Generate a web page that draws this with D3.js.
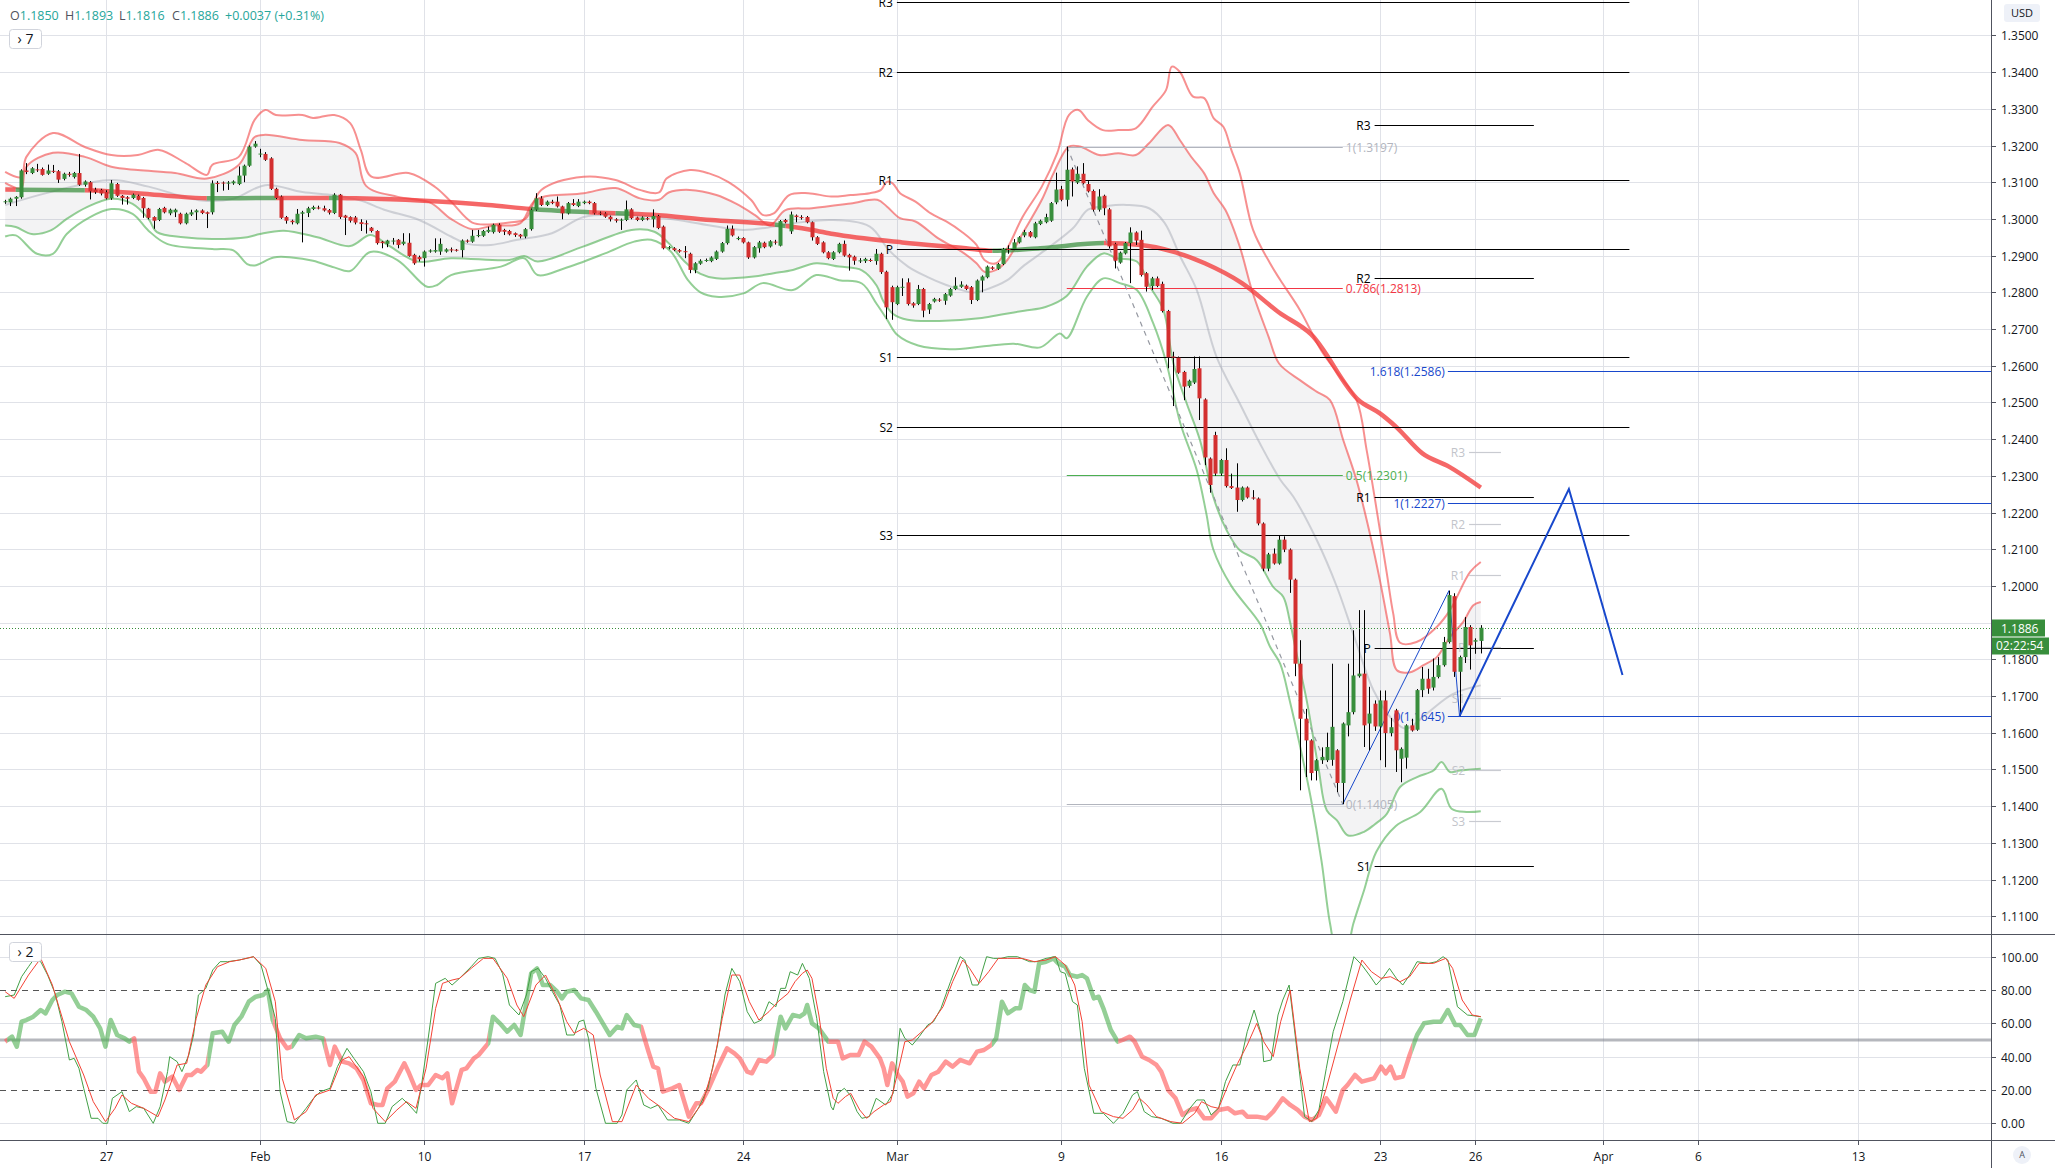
<!DOCTYPE html>
<html><head><meta charset="utf-8">
<script src="https://cdn.jsdelivr.net/npm/d3@7"></script>
<style>body{margin:0;background:#fff;overflow:hidden}svg{display:block}text{font-family:"Open Sans",Roboto,"DejaVu Sans",sans-serif}</style>
</head><body><svg id="c" width="2055" height="1168"></svg>
<script>
// ---------- DATA ----------
const opens=[1.3047,1.3045,1.3055,1.3059,1.3132,1.3125,1.3135,1.3136,1.3123,1.3131,1.3130,1.3109,1.3123,1.3114,1.3125,1.3093,1.3100,1.3080,1.3079,1.3073,1.3056,1.3095,1.3063,1.3059,1.3057,1.3063,1.3057,1.3028,1.3005,1.2997,1.3030,1.3015,1.3018,1.3014,1.2988,1.3012,1.3018,1.3023,1.3018,1.3018,1.3098,1.3099,1.3096,1.3097,1.3095,1.3118,1.3145,1.3197,1.3177,1.3177,1.3165,1.3082,1.3061,1.3005,1.2995,1.2988,1.3014,1.3016,1.3027,1.3031,1.3029,1.3024,1.3016,1.3066,1.3009,1.3005,1.3004,1.2991,1.2988,1.2976,1.2967,1.2938,1.2932,1.2941,1.2943,1.2932,1.2935,1.2902,1.2896,1.2893,1.2911,1.2911,1.2911,1.2911,1.2917,1.2916,1.2915,1.2941,1.2938,1.2954,1.2954,1.2965,1.2964,1.2984,1.2970,1.2967,1.2961,1.2957,1.2952,1.2972,1.3025,1.3056,1.3038,1.3047,1.3047,1.3034,1.3015,1.3043,1.3035,1.3043,1.3047,1.3043,1.3017,1.3015,1.3006,1.2999,1.2996,1.2997,1.3026,1.3004,1.2997,1.3002,1.2999,1.3008,1.2979,1.2920,1.2920,1.2915,1.2912,1.2905,1.2861,1.2878,1.2886,1.2885,1.2891,1.2911,1.2934,1.2973,1.2945,1.2948,1.2936,1.2895,1.2920,1.2935,1.2925,1.2938,1.2927,1.2997,1.2966,1.3009,1.3005,1.3005,1.2991,1.2950,1.2936,1.2909,1.2891,1.2909,1.2932,1.2902,1.2897,1.2886,1.2885,1.2888,1.2885,1.2905,1.2856,1.2814,1.2768,1.2814,1.2827,1.2770,1.2768,1.2809,1.2753,1.2775,1.2780,1.2777,1.2791,1.2809,1.2815,1.2818,1.2814,1.2779,1.2832,1.2841,1.2868,1.2864,1.2877,1.2918,1.2918,1.2936,1.2955,1.2964,1.2950,1.2986,1.2991,1.2995,1.3045,1.3081,1.3052,1.3135,1.3099,1.3123,1.3095,1.3076,1.3025,1.3063,1.3026,1.2932,1.2881,1.2906,1.2934,1.2963,1.2943,1.2852,1.2817,1.2838,1.2823,1.2749,1.2625,1.2622,1.2583,1.2545,1.2554,1.2593,1.2508,1.2347,1.2411,1.2306,1.2343,1.2272,1.2268,1.2234,1.2268,1.2241,1.2238,1.2170,1.2047,1.2088,1.2061,1.2126,1.2099,1.2017,1.1788,1.1638,1.1579,1.1496,1.1525,1.1525,1.1526,1.1552,1.1463,1.1620,1.1656,1.1754,1.1761,1.1625,1.1679,1.1617,1.1688,1.1599,1.1661,1.1529,1.1532,1.1620,1.1608,1.1716,1.1747,1.1723,1.1752,1.1784,1.1847,1.1972,1.1766,1.1806,1.1888,1.1848,1.1850];
const highs=[1.3052,1.3058,1.3062,1.3135,1.3152,1.3141,1.3150,1.3140,1.3148,1.3147,1.3133,1.3126,1.3128,1.3128,1.3177,1.3105,1.3103,1.3085,1.3082,1.3078,1.3106,1.3098,1.3065,1.3062,1.3069,1.3066,1.3060,1.3030,1.3007,1.3030,1.3033,1.3028,1.3028,1.3017,1.3017,1.3025,1.3026,1.3026,1.3020,1.3105,1.3103,1.3102,1.3103,1.3105,1.3143,1.3148,1.3200,1.3212,1.3191,1.3182,1.3168,1.3085,1.3064,1.3008,1.2998,1.3027,1.3022,1.3033,1.3036,1.3036,1.3036,1.3027,1.3070,1.3068,1.3011,1.3007,1.3008,1.2999,1.2996,1.2978,1.2969,1.2940,1.2943,1.2948,1.2945,1.2961,1.2961,1.2905,1.2900,1.2914,1.2917,1.2947,1.2947,1.2920,1.2922,1.2918,1.2944,1.2944,1.2970,1.2970,1.2970,1.2979,1.2987,1.2988,1.2973,1.2970,1.2963,1.2959,1.2975,1.3028,1.3070,1.3062,1.3050,1.3052,1.3061,1.3036,1.3046,1.3054,1.3054,1.3050,1.3050,1.3046,1.3020,1.3018,1.3009,1.3002,1.3001,1.3050,1.3029,1.3006,1.3007,1.3005,1.3026,1.3011,1.2982,1.2926,1.2923,1.2918,1.2926,1.2908,1.2882,1.2890,1.2892,1.2898,1.2914,1.2937,1.2982,1.2982,1.2952,1.2950,1.2938,1.2926,1.2940,1.2938,1.2942,1.2943,1.2997,1.3000,1.3020,1.3012,1.3010,1.3008,1.2993,1.2953,1.2939,1.2912,1.2912,1.2935,1.2941,1.2905,1.2900,1.2893,1.2894,1.2892,1.2918,1.2908,1.2859,1.2818,1.2818,1.2838,1.2838,1.2773,1.2820,1.2812,1.2771,1.2785,1.2784,1.2798,1.2812,1.2841,1.2830,1.2821,1.2817,1.2835,1.2846,1.2873,1.2871,1.2880,1.2921,1.2928,1.2945,1.2953,1.2970,1.2967,1.2992,1.2998,1.3014,1.3046,1.3126,1.3090,1.3197,1.3140,1.3143,1.3152,1.3103,1.3080,1.3081,1.3066,1.3030,1.2935,1.2911,1.2937,1.2977,1.2966,1.2968,1.2855,1.2842,1.2843,1.2829,1.2752,1.2638,1.2625,1.2586,1.2562,1.2625,1.2625,1.2511,1.2350,1.2420,1.2346,1.2375,1.2306,1.2334,1.2271,1.2271,1.2261,1.2241,1.2173,1.2090,1.2102,1.2136,1.2135,1.2102,1.2020,1.1852,1.1665,1.1582,1.1528,1.1560,1.1600,1.1788,1.1555,1.1628,1.1788,1.1879,1.1934,1.1934,1.1725,1.1688,1.1715,1.1715,1.1640,1.1665,1.1560,1.1623,1.1638,1.1719,1.1779,1.1774,1.1802,1.1806,1.1861,1.1987,1.1980,1.1810,1.1915,1.1893,1.1857,1.1893];
const lows=[1.3041,1.3035,1.3035,1.3055,1.3122,1.3122,1.3128,1.3118,1.3120,1.3125,1.3098,1.3105,1.3115,1.3110,1.3090,1.3088,1.3053,1.3068,1.3064,1.3053,1.3052,1.3060,1.3039,1.3039,1.3054,1.3050,1.3003,1.2999,1.2973,1.2994,1.3015,1.3010,1.3005,1.2985,1.2985,1.3008,1.2997,1.3013,1.2975,1.3012,1.3073,1.3077,1.3079,1.3093,1.3092,1.3100,1.3142,1.3194,1.3168,1.3158,1.3079,1.3054,1.3000,1.2987,1.2985,1.2985,1.2936,1.3005,1.3024,1.3026,1.3020,1.3012,1.3013,1.3000,1.2956,1.2990,1.2985,1.2967,1.2960,1.2963,1.2930,1.2920,1.2923,1.2930,1.2920,1.2928,1.2897,1.2875,1.2884,1.2870,1.2908,1.2908,1.2902,1.2908,1.2909,1.2911,1.2895,1.2935,1.2935,1.2950,1.2951,1.2962,1.2960,1.2962,1.2956,1.2955,1.2951,1.2947,1.2947,1.2968,1.3022,1.3035,1.3035,1.3040,1.3031,1.2999,1.3012,1.3035,1.3032,1.3040,1.3040,1.3012,1.3010,1.3003,1.2993,1.2990,1.2970,1.2994,1.2999,1.2994,1.2994,1.2996,1.2977,1.2972,1.2917,1.2917,1.2912,1.2908,1.2893,1.2852,1.2852,1.2875,1.2883,1.2882,1.2888,1.2908,1.2930,1.2952,1.2942,1.2933,1.2891,1.2892,1.2908,1.2920,1.2922,1.2930,1.2925,1.2988,1.2959,1.2991,1.2998,1.2988,1.2941,1.2929,1.2906,1.2890,1.2888,1.2906,1.2897,1.2859,1.2875,1.2880,1.2880,1.2883,1.2875,1.2850,1.2727,1.2725,1.2765,1.2790,1.2764,1.2758,1.2765,1.2732,1.2741,1.2772,1.2774,1.2766,1.2788,1.2806,1.2812,1.2806,1.2768,1.2776,1.2800,1.2838,1.2861,1.2861,1.2874,1.2905,1.2915,1.2933,1.2950,1.2949,1.2947,1.2983,1.2988,1.2992,1.3040,1.3048,1.3034,1.3061,1.3095,1.3094,1.3072,1.3020,1.3020,1.3010,1.2920,1.2865,1.2878,1.2903,1.2825,1.2929,1.2843,1.2802,1.2806,1.2814,1.2745,1.2593,1.2490,1.2578,1.2506,1.2540,1.2550,1.2452,1.2329,1.2254,1.2300,1.2300,1.2268,1.2264,1.2202,1.2230,1.2238,1.2235,1.2165,1.2040,1.2040,1.2058,1.2058,1.2092,1.1981,1.1754,1.1443,1.1479,1.1470,1.1470,1.1515,1.1520,1.1510,1.1438,1.1405,1.1590,1.1650,1.1750,1.1561,1.1552,1.1605,1.1525,1.1506,1.1590,1.1493,1.1465,1.1502,1.1603,1.1605,1.1697,1.1706,1.1715,1.1748,1.1780,1.1843,1.1752,1.1645,1.1790,1.1772,1.1815,1.1816];
const closes=[1.3048,1.3055,1.3060,1.3132,1.3128,1.3138,1.3134,1.3120,1.3132,1.3129,1.3107,1.3123,1.3120,1.3125,1.3093,1.3102,1.3075,1.3073,1.3069,1.3056,1.3097,1.3063,1.3057,1.3055,1.3066,1.3052,1.3029,1.3003,1.2995,1.3027,1.3018,1.3025,1.3025,1.2988,1.3014,1.3018,1.3023,1.3016,1.3014,1.3097,1.3095,1.3097,1.3099,1.3102,1.3118,1.3145,1.3197,1.3205,1.3178,1.3161,1.3082,1.3057,1.3003,1.2995,1.2991,1.3014,1.3018,1.3029,1.3032,1.3030,1.3023,1.3017,1.3066,1.3005,1.3003,1.2995,1.2990,1.2986,1.2986,1.2967,1.2934,1.2934,1.2941,1.2941,1.2929,1.2938,1.2899,1.2879,1.2890,1.2911,1.2914,1.2915,1.2932,1.2917,1.2914,1.2914,1.2941,1.2938,1.2954,1.2956,1.2967,1.2970,1.2984,1.2965,1.2965,1.2958,1.2956,1.2952,1.2972,1.3025,1.3056,1.3038,1.3047,1.3043,1.3034,1.3015,1.3043,1.3038,1.3047,1.3047,1.3043,1.3015,1.3014,1.3006,1.2999,1.2995,1.2998,1.3026,1.3002,1.2997,1.3004,1.2999,1.3008,1.2975,1.2920,1.2923,1.2915,1.2911,1.2910,1.2861,1.2879,1.2886,1.2888,1.2895,1.2911,1.2934,1.2973,1.2955,1.2948,1.2936,1.2895,1.2923,1.2936,1.2923,1.2939,1.2937,1.2994,1.2991,1.3012,1.3005,1.3004,1.2991,1.2950,1.2932,1.2909,1.2893,1.2909,1.2932,1.2900,1.2895,1.2886,1.2887,1.2891,1.2886,1.2905,1.2855,1.2759,1.2773,1.2814,1.2815,1.2768,1.2764,1.2809,1.2750,1.2768,1.2782,1.2778,1.2795,1.2809,1.2818,1.2821,1.2809,1.2779,1.2832,1.2843,1.2870,1.2864,1.2877,1.2918,1.2916,1.2936,1.2950,1.2964,1.2952,1.2988,1.2995,1.3005,1.3043,1.3080,1.3052,1.3134,1.3102,1.3123,1.3097,1.3075,1.3025,1.3061,1.3029,1.2925,1.2886,1.2908,1.2934,1.2963,1.2941,1.2847,1.2815,1.2838,1.2817,1.2749,1.2623,1.2622,1.2581,1.2543,1.2559,1.2591,1.2511,1.2350,1.2275,1.2306,1.2343,1.2272,1.2267,1.2234,1.2268,1.2241,1.2238,1.2170,1.2047,1.2086,1.2061,1.2126,1.2099,1.2017,1.1788,1.1638,1.1579,1.1490,1.1525,1.1534,1.1561,1.1616,1.1463,1.1625,1.1656,1.1756,1.1761,1.1620,1.1652,1.1617,1.1688,1.1599,1.1615,1.1552,1.1556,1.1620,1.1606,1.1716,1.1747,1.1720,1.1752,1.1784,1.1847,1.1975,1.1766,1.1806,1.1888,1.1838,1.1852,1.1886];

const maValues=[[0,1.3080],[15,1.3078],[30,1.3064],[38,1.3056],[50,1.3057],[63,1.3057],[66,1.3056],[78,1.3050],[91,1.3038],[99,1.3027],[110,1.3018],[122,1.3011],[133,1.2997],[144,1.2986],[152,1.2970],[156,1.2959],[169,1.2936],[181,1.2920],[186,1.2913],[195,1.2920],[207,1.2934],[214,1.2929],[220,1.2911],[226,1.2879],[233,1.2825],[240,1.2745],[246,1.2686],[255,1.2506],[259,1.2470],[262,1.2434],[267,1.2361],[272,1.2325],[278,1.2268]];
const maTrend=[[0,0],[2,1],[15,0],[38,1],[51,0],[61,1],[63,0],[99,1],[110,0],[115,1],[118,0],[145,1],[147,0],[186,1],[207,0]];

const bbUpperOuter=[[0,1.3128],[3,1.3114],[4,1.3169],[9,1.3234],[15,1.3196],[20,1.3174],[25,1.3174],[29,1.3188],[34,1.3152],[38,1.3120],[39,1.3147],[44,1.3169],[47,1.3270],[49,1.3297],[51,1.3283],[56,1.3283],[58,1.3275],[62,1.3283],[65,1.3261],[67,1.3188],[69,1.3115],[76,1.3125],[81,1.3087],[84,1.3047],[88,1.2990],[91,1.2985],[95,1.2990],[98,1.3000],[101,1.3079],[109,1.3115],[115,1.3106],[119.6,1.3079],[123.2,1.3072],[124.6,1.3110],[129,1.3133],[132.6,1.3124],[136.2,1.3101],[140.5,1.3052],[142.7,1.3011],[144.8,1.3015],[147.7,1.3065],[151.3,1.3070],[155.6,1.3061],[159.3,1.3065],[162.9,1.3070],[165,1.3079],[166.1,1.3101],[167.2,1.3097],[168.6,1.3070],[171.5,1.3047],[174.4,1.3015],[177.3,1.2993],[180.2,1.2965],[183,1.2929],[184.5,1.2888],[186.7,1.2879],[188.8,1.2920],[191.7,1.3006],[195.3,1.3088],[198.2,1.3179],[200.4,1.3283],[202.2,1.3297],[204,1.3269],[206.8,1.3242],[209.7,1.3242],[213,1.3247],[216.2,1.3306],[218.7,1.3351],[219.8,1.3415],[221.3,1.3401],[223.8,1.3333],[225.9,1.3329],[227.7,1.3274],[229.5,1.3251],[231,1.3188],[232.6,1.3124],[235.1,1.2970],[238.3,1.2879],[240.2,1.2834],[244,1.2750],[248,1.2640],[251,1.2580],[254.6,1.2506],[256.5,1.2370],[258.4,1.2206],[260.3,1.2034],[261.5,1.1925],[262.8,1.1845],[265.9,1.1847],[269.7,1.1888],[272.2,1.1934],[276,1.2038],[278,1.2065]];
const bbUpperInner=[[0,1.3098],[3,1.3084],[4,1.3142],[9,1.3180],[15,1.3169],[20,1.3142],[25,1.3133],[32,1.3125],[38,1.3110],[44,1.3147],[47,1.3223],[49,1.3229],[56,1.3215],[63,1.3207],[66,1.3180],[68,1.3090],[74,1.3060],[80,1.3045],[84,1.3000],[88,1.2972],[92,1.2982],[97,1.2988],[100,1.3052],[109,1.3070],[115,1.3084],[119.6,1.3056],[123.2,1.3052],[125,1.3072],[129,1.3079],[134,1.3065],[137.6,1.3042],[141.2,1.3011],[144.1,1.2983],[147,1.3024],[152,1.3029],[159.3,1.3042],[164.3,1.3052],[166.1,1.3034],[168.6,1.3002],[171.5,1.2993],[175.8,1.2947],[180.2,1.2911],[183,1.2879],[184.5,1.2856],[186.7,1.2861],[188.8,1.2888],[191.7,1.2961],[195.3,1.3052],[197.5,1.3124],[200.4,1.3197],[202.5,1.3197],[206.1,1.3174],[209.7,1.3179],[213,1.3174],[215.5,1.3206],[219.1,1.3256],[221.3,1.3215],[223.4,1.3170],[225.9,1.3124],[227.7,1.3070],[229.9,1.3024],[232.6,1.2924],[235,1.2800],[238,1.2680],[240,1.2606],[244,1.2560],[247,1.2530],[249.6,1.2506],[252.1,1.2397],[254.6,1.2288],[257.1,1.2143],[259,1.2015],[260.9,1.1870],[262.2,1.1770],[264.7,1.1765],[267.2,1.1784],[269.7,1.1806],[272.2,1.1861],[274.7,1.1902],[276.6,1.1947],[278,1.1956]];
const bbBasis=[[0,1.3038],[8.5,1.3073],[20,1.3106],[27,1.3088],[37,1.3050],[43,1.3055],[49,1.3092],[56,1.3073],[62,1.3064],[67,1.3050],[71.4,1.3025],[78,1.2997],[84,1.2952],[87,1.2932],[91.5,1.2929],[96.5,1.2943],[103,1.2961],[109,1.3005],[115.4,1.3011],[121.7,1.3006],[126.8,1.2997],[134,1.2979],[139.1,1.2970],[144.8,1.2979],[148.4,1.2988],[155.7,1.2997],[162.9,1.2979],[166.5,1.2915],[170.1,1.2870],[173.7,1.2842],[177.3,1.2820],[182.3,1.2799],[184.5,1.2806],[188.8,1.2833],[191.7,1.2870],[195,1.2905],[201.2,1.2975],[204,1.3025],[207.5,1.3035],[211.3,1.3038],[215.5,1.3029],[218.4,1.2990],[221.4,1.2897],[224.5,1.2806],[228.2,1.2625],[232.6,1.2497],[236.4,1.2388],[240.2,1.2290],[242.7,1.2243],[247.1,1.2125],[250.9,1.1997],[254.6,1.1843],[257.8,1.1715],[261.5,1.1634],[264,1.1611],[267.8,1.1652],[272.8,1.1706],[278,1.1729]];
const bbLowerInner=[[0,1.2982],[2,1.2978],[5,1.2959],[8.5,1.2968],[11.6,1.3000],[15.4,1.3032],[20,1.3055],[24,1.3041],[27,1.3000],[28.6,1.2964],[33.6,1.2950],[39,1.2945],[45.6,1.2950],[48,1.2959],[52.5,1.2968],[58.8,1.2950],[65,1.2926],[68.8,1.2956],[72,1.2930],[77.6,1.2884],[84,1.2893],[95,1.2888],[97.8,1.2899],[100.3,1.2884],[109,1.2925],[118,1.2970],[122.3,1.2965],[125,1.2934],[128,1.2884],[131,1.2850],[134,1.2838],[141,1.2843],[144.8,1.2852],[148.4,1.2861],[152.8,1.2879],[157.1,1.2870],[161.4,1.2860],[164.2,1.2818],[165.4,1.2777],[167.3,1.2741],[170,1.2725],[176,1.2722],[184,1.2730],[188,1.2740],[192,1.2750],[196,1.2760],[200,1.2790],[203.8,1.2870],[206.9,1.2906],[209.4,1.2893],[213.2,1.2884],[215.7,1.2815],[218.2,1.2752],[220.1,1.2606],[222.6,1.2497],[225.1,1.2397],[227.6,1.2243],[230.1,1.2152],[232.6,1.2097],[235.8,1.2070],[238.9,1.1997],[240.8,1.1970],[242,1.1906],[243.3,1.1815],[245.2,1.1688],[247.4,1.1506],[249,1.1388],[250.9,1.1361],[253,1.1320],[256,1.1330],[258,1.1350],[260.3,1.1379],[262.8,1.1452],[266,1.1479],[269.1,1.1497],[270.6,1.1520],[272.2,1.1493],[274.1,1.1497],[278,1.1502]];
const bbLowerOuter=[[0,1.2952],[2,1.2955],[6,1.2905],[9,1.2905],[11.6,1.2959],[16,1.3005],[20,1.3027],[24,1.3014],[27,1.2968],[30.5,1.2932],[39,1.2918],[43,1.2914],[45.6,1.2877],[47,1.2873],[50.6,1.2895],[54,1.2895],[58,1.2886],[62,1.2868],[65,1.2858],[68.8,1.2910],[73.9,1.2888],[79.5,1.2815],[81.4,1.2820],[84,1.2847],[93.4,1.2870],[97.8,1.2893],[100.3,1.2847],[105.3,1.2865],[113,1.2906],[118.5,1.2938],[121.7,1.2943],[125.4,1.2911],[128.6,1.2834],[131,1.2800],[134,1.2788],[139.1,1.2797],[142.7,1.2825],[148.4,1.2806],[152.8,1.2847],[157.1,1.2833],[161.4,1.2824],[164.2,1.2768],[166.1,1.2727],[168,1.2685],[172,1.2655],[178,1.2645],[184,1.2652],[190,1.2660],[195,1.2650],[198.7,1.2688],[200,1.2675],[203.8,1.2788],[206.9,1.2838],[210,1.2825],[213.2,1.2806],[216.3,1.2715],[218.8,1.2606],[221.4,1.2443],[224.5,1.2315],[226.3,1.2197],[227.6,1.2100],[231,1.2000],[236.4,1.1897],[238.3,1.1834],[240.2,1.1788],[242,1.1688],[244,1.1560],[246,1.1420],[248,1.1250],[249.6,1.1080],[251,1.1000],[252.5,1.1000],[254,1.1080],[256,1.1170],[258.3,1.1275],[262,1.1346],[266.6,1.1384],[270.6,1.1447],[272.5,1.1393],[275.3,1.1384],[278,1.1386]];

const stochK=[[0,76],[1.7,77],[3.1,88],[4.4,94],[5.3,98],[6.7,97],[8,89],[9.4,78],[10.7,61],[12.1,38],[13,39],[13.9,33],[14.8,21],[16.2,3],[17.5,3],[18.4,0],[19.3,0],[20.2,15],[22,19],[23.4,7],[24.7,10],[26.1,9],[27.9,0],[29.2,10],[30.6,31],[31,40],[32.4,37],[33.3,31],[34.6,41],[35.5,53],[36.4,77],[37.8,81],[39.1,92],[40.5,97],[41.9,97],[44.1,98],[46.8,100],[48.2,95],[49.5,80],[50.9,63],[51.8,19],[53.1,1],[54.5,0],[56.7,9],[58.1,15],[59.4,19],[61.2,21],[62.6,34],[64.4,45],[65.7,39],[67.5,31],[68.9,19],[70.2,0],[71.6,0],[72.9,10],[74.8,15],[76.1,11],[77.5,6],[78.4,22],[79.7,51],[81.1,84],[82.9,87],[84.2,83],[85.6,87],[87.8,94],[89.2,99],[91,100],[92.3,99],[93.7,90],[95,71],[96.8,65],[98.2,77],[99.1,91],[100.4,93],[101.8,87],[103.1,79],[104.5,71],[105.8,53],[107.2,53],[108.1,61],[109,62],[109.9,51],[111.3,21],[113.1,0],[115.3,0],[116.2,5],[117.1,20],[118.9,26],[120.3,11],[121.6,9],[123,11],[124.8,2],[127,2],[128.8,0],[130.6,9],[132.4,21],[134.2,47],[135.6,77],[136.9,93],[138.4,85],[139.8,67],[141.1,60],[142.5,62],[143.9,73],[145.2,70],[146.1,81],[147,81],[147.9,91],[149.3,89],[150.2,96],[151.5,87],[152.9,63],[154.2,31],[155.6,10],[156,8],[156.9,18],[158.1,21],[159.2,17],[160.5,7],[161.4,3],[162.8,4],[164.1,15],[165,13],[165.9,11],[167.3,18],[168.6,57],[169.5,51],[170.9,47],[172.2,52],[173.8,59],[174.9,61],[176.3,69],[178.1,85],[179.9,100],[180.8,98],[182.2,83],[183.3,83],[184.9,100],[186.2,99],[187.6,99],[188.9,100],[190.7,100],[193,97],[194.3,97],[196.1,99],[197.9,100],[198.8,91],[199.7,90],[201.1,73],[202,71],[203.3,33],[205.1,6],[206.9,6],[208.8,0],[210.6,6],[212.4,17],[213.3,19],[214.6,7],[216,4],[217.8,3],[220,0],[221.4,0],[223.2,9],[224.5,14],[225.9,14],[227.2,5],[228.6,9],[229.9,25],[231.3,35],[232.6,35],[234,55],[235.3,68],[236.7,53],[237.1,37],[238.5,38],[239.8,65],[240.7,74],[241.9,83],[243.4,43],[244.8,4],[246.2,1],[247.5,8],[248.9,33],[250.2,55],[252,73],[254.1,100],[255.6,95],[257,89],[258.3,83],[259.7,88],[260.8,93],[262.1,87],[263.3,83],[264.6,89],[266,97],[268.2,96],[269.6,97],[270.9,100],[271.8,98],[273.6,70],[275.5,65],[278,64]];
const stochD=[[0,79],[1.7,75],[4.4,89],[6.7,99],[8.9,83],[12.1,49],[14.8,29],[16.6,13],[18.9,1],[20.7,9],[22,17],[23.8,12],[26.1,9],[28.8,4],[30.1,14],[32.4,35],[34.2,36],[36,63],[37.8,83],[40,94],[42.3,97],[44.1,98],[46.8,100],[49.1,93],[50.9,73],[52.2,27],[54.5,2],[56.7,7],[58.5,17],[61.2,20],[63.5,38],[64.8,40],[67.5,28],[69.3,9],[71.6,1],[73.8,8],[75.6,13],[77.4,9],[79.3,33],[81.1,69],[82.4,84],[84.2,86],[85.6,87],[87.8,93],[90.1,99],[91.9,99],[94.6,87],[96.4,71],[97.7,64],[100,83],[101.8,89],[104,75],[105.8,61],[107.2,54],[109,57],[110.8,53],[112.1,29],[114.4,1],[116.2,1],[118.9,23],[121.2,15],[123.4,10],[126.1,3],[128.8,1],[131.5,13],[133.3,33],[135.1,63],[136.9,89],[138.4,89],[140.2,73],[142,62],[143.9,67],[145.6,73],[147.5,78],[148.8,85],[150.2,90],[151.1,92],[152,87],[153.3,65],[154.7,33],[156,15],[156.9,12],[158.3,16],[159.3,18],[161,8],[162.3,3],[163.7,7],[165.5,11],[166.8,13],[168.2,31],[169.5,49],[170.9,50],[172.7,55],[174.5,60],[176.7,70],[178.5,85],[180.4,98],[181.7,93],[183.5,84],[185.3,91],[187.1,99],[188.9,99],[191.6,99],[193.9,97],[196.1,98],[197.9,100],[199.7,95],[201.5,83],[202.9,61],[204.2,23],[206.5,7],[208.8,4],[210.6,3],[212.4,8],[213.7,15],[215.1,11],[216.9,4],[219.6,1],[221.8,0],[224.1,6],[225.4,13],[227.2,10],[228.6,9],[230.4,23],[232.2,36],[234,47],[235.8,60],[237.1,49],[238.9,40],[240.3,61],[242.1,80],[243.9,33],[245.7,1],[247.1,3],[248.9,21],[251.1,47],[253.4,74],[255.6,98],[257.4,91],[259.2,87],[261,88],[262.8,85],[264.6,88],[266.4,96],[269.1,96],[271.4,99],[272.7,93],[274.5,74],[276.4,65],[278,64]];
const stochSlow=[[0,49],[1.3,52],[2.2,46],[3.1,61],[4,62],[5.3,64],[6.7,68],[7.6,66],[8.9,74],[9.8,77],[11.2,79],[12.5,78],[13.9,70],[15.3,68],[16.6,64],[17.9,57],[18.9,46],[19.9,62],[21.1,53],[22.5,51],[23.4,49],[24.3,51],[25.2,31],[26.1,27],[27.4,19],[28.3,19],[29.2,30],[30.1,25],[31.5,28],[32.8,20],[34.2,29],[35.1,29],[36.2,32],[36.9,31],[38.1,35],[39.1,54],[40.9,55],[42.1,49],[43.2,59],[44.5,64],[45.9,73],[47.2,76],[48.6,77],[49.5,80],[50.4,62],[51.8,51],[53.1,45],[54,46],[55.4,53],[56.7,51],[58.5,52],[59.9,51],[61.2,35],[62.1,46],[63.5,37],[64.8,36],[66.2,33],[67.5,26],[68.9,12],[70.2,11],[71.1,11],[72,21],[73.4,25],[75.2,36],[76.1,30],[77.4,20],[78.4,23],[79.7,23],[81.1,29],[82.4,27],[83.3,30],[84.2,12],[86,32],[86.9,33],[88.3,39],[89.2,41],[91,48],[91.9,64],[93.2,60],[94.6,55],[95.9,59],[97.1,53],[98.2,73],[99.1,90],[100.2,93],[101.3,83],[102.7,83],[104,79],[104.9,75],[105.8,79],[107.2,80],[108.5,75],[109.9,74],[111.3,67],[112.6,60],[113.9,53],[115.3,58],[116.2,57],[117.1,65],[118.5,59],[119.8,58],[121.2,43],[122.1,34],[123,33],[123.9,19],[125.7,21],[127,23],[128.8,4],[130.2,12],[131.1,12],[132.4,20],[134.2,33],[136,45],[137.4,42],[138.4,39],[139.8,31],[140.7,30],[142,38],[143.4,37],[144.7,41],[146.1,64],[147,57],[148.4,65],[149.7,64],[150.6,66],[151.1,71],[152,60],[153.3,57],[154.2,53],[155.1,49],[156.9,49],[157.8,39],[159.2,41],[160.8,41],[161.9,49],[163.2,46],[164.8,39],[165.5,33],[166.2,23],[167.1,36],[168.2,29],[169.1,25],[170,16],[171.1,18],[172.2,25],[173.1,21],[174.5,29],[175.8,31],[177.2,37],[178.5,34],[179.9,38],[181.7,36],[183.1,43],[184.4,44],[185.8,47],[186.7,51],[187.8,73],[188.9,66],[190.3,69],[191.2,69],[192.1,83],[193,80],[193.9,79],[194.8,96],[196.1,97],[197.5,99],[198.4,96],[199.7,94],[200.6,89],[202,88],[202.9,89],[203.8,87],[205.1,75],[206,76],[206.9,69],[208.3,56],[209.6,49],[210.5,50],[211.9,52],[212.8,49],[214.2,40],[215.5,38],[216.9,35],[217.8,31],[219.1,20],[220.5,15],[221.8,5],[223.2,8],[224.5,9],[225.9,3],[227.2,3],[228.6,8],[230.4,9],[231.7,6],[233.1,7],[234,4],[235.8,4],[237.6,3],[238.9,7],[239.8,11],[240.7,15],[242.1,11],[243.5,8],[244.8,4],[246.2,2],[247.5,5],[248.9,15],[250.7,7],[252,20],[252.9,23],[254.3,29],[255.6,25],[257.9,27],[259.2,34],[260.1,30],[261,34],[261.9,27],[263.3,28],[264.6,41],[266,53],[267.3,60],[269.1,61],[270.5,61],[271.8,68],[273.2,59],[274.1,59],[275.5,53],[276.8,53],[278,63]];
const stochSlowTrend=[[-2,0],[0.4,1],[23.8,0],[38.1,1],[50.4,0],[54,1],[60.1,0],[91,1],[119.8,0],[144.9,1],[155.1,0],[185.9,1],[209.7,0],[265.1,1]];

const timeTickBars=[19,48,79,109,139,168,199,229,259,277,301,319,349];
const timeTickLabels=["27","Feb","10","17","24","Mar","9","16","23","26","Apr","6","13"];
const priceTicks=[1.35,1.34,1.33,1.32,1.31,1.30,1.29,1.28,1.27,1.26,1.25,1.24,1.23,1.22,1.21,1.20,1.19,1.18,1.17,1.16,1.15,1.14,1.13,1.12,1.11];
const oscTicks=[100,80,60,40,20,0];

const monthlyPivotLabels=["R3","R2","R1","P","S1","S2","S3"];
const monthlyPivotValues=[1.3590,1.3400,1.3105,1.2917,1.2623,1.2432,1.2140];
const monthlyPivotBars=[168,306];
const weeklyPivotLabels=["R3","R2","R1","P","S1"];
const weeklyPivotValues=[1.3257,1.2839,1.2243,1.1832,1.1236];
const weeklyPivotBars=[258,288];
const dailyPivotLabels=["R3","R2","R1","P","S1","S2","S3"];
const dailyPivotValues=[1.2365,1.2168,1.2030,1.1834,1.1695,1.1499,1.1360];
const dailyPivotBars=[275.8,281.8];

const fibLabels=["1(1.3197)","0.786(1.2813)","0.5(1.2301)","0(1.1405)"];
const fibValues=[1.3197,1.2813,1.2301,1.1405];
const fibColors=["#b2b5be","#f23645","#4caf50","#b2b5be"];
const fibBars=[200,252];
const fibTrend=[[200,1.3197],[252,1.1405]];
const extLabels=["1.618(1.2586)","1(1.2227)","0(1.1645)"];
const extValues=[1.2586,1.2227,1.1645];
const extStartBar=271.8;
const abcLeg=[[252,1.1405],[272,1.1987],[274,1.1645]];
const projection=[[274,1.1645],[294.6,1.2264],[304.7,1.1757]];
const lastPrice=1.1886;
const countdown="02:22:54";
const header=[["O","1.1850"],["H","1.1893"],["L","1.1816"],["C","1.1886"]];
const headerChange="+0.0037 (+0.31%)";

// ---------- LAYOUT ----------
const W=2055,H=1168,AX=1991,P1B=934,P2T=935,P2B=1140;
const x=d3.scaleLinear().domain([0,1]).range([5.15,5.15+5.308]);
const y=d3.scaleLinear().domain([1.35,1.11]).range([35.4,916.2]);
const yo=d3.scaleLinear().domain([100,0]).range([956.7,1123.3]);
const svg=d3.select("#c");
svg.append("rect").attr("width",W).attr("height",H).attr("fill","#fff");
const defs=svg.append("defs");
defs.append("clipPath").attr("id","cm").append("rect").attr("x",0).attr("y",0).attr("width",AX).attr("height",P1B);
defs.append("clipPath").attr("id","co").append("rect").attr("x",0).attr("y",P2T).attr("width",AX).attr("height",P2B-P2T);
function runClip(id,runs,flag,y0,h){
  const cp=defs.append("clipPath").attr("id",id);
  runs.forEach((r,i)=>{ if(r[1]!==flag) return;
    const x0=x(r[0]), x1=i+1<runs.length?x(runs[i+1][0]):AX;
    cp.append("rect").attr("x",x0).attr("y",y0).attr("width",Math.max(0,x1-x0)).attr("height",h);});
}
runClip("maUp",maTrend,1,0,P1B);runClip("maDn",maTrend,0,0,P1B);
runClip("stUp",stochSlowTrend,1,P2T,P2B-P2T);runClip("stDn",stochSlowTrend,0,P2T,P2B-P2T);

// grid
const grid=svg.append("g").attr("stroke","#e0e2e8").attr("stroke-width",1);
timeTickBars.forEach(b=>{const xx=Math.round(x(b))+0.5;grid.append("line").attr("x1",xx).attr("x2",xx).attr("y1",0).attr("y2",P2B);});
priceTicks.forEach(p=>{const yy=Math.round(y(p))+0.5;grid.append("line").attr("x1",0).attr("x2",AX).attr("y1",yy).attr("y2",yy);});
[100,60,40,0].forEach(v=>{const yy=Math.round(yo(v))+0.5;grid.append("line").attr("x1",0).attr("x2",AX).attr("y1",yy).attr("y2",yy);});

// ---------- MAIN PANE ----------
const m=svg.append("g").attr("clip-path","url(#cm)");
const cr=d3.curveCatmullRom.alpha(0.5);
const lg=d3.line().x(d=>x(d[0])).y(d=>y(d[1])).curve(cr);
m.append("path").attr("d",lg(bbUpperInner)+"L"+lg(bbLowerInner.slice().reverse()).slice(1)+"Z").attr("fill","rgba(120,123,134,0.09)");
m.append("path").attr("d",lg(bbBasis)).attr("fill","none").attr("stroke","rgba(160,163,175,0.45)").attr("stroke-width",2);
[bbUpperOuter,bbUpperInner].forEach(a=>m.append("path").attr("d",lg(a)).attr("fill","none").attr("stroke","rgba(242,70,70,0.6)").attr("stroke-width",2));
[bbLowerOuter,bbLowerInner].forEach(a=>m.append("path").attr("d",lg(a)).attr("fill","none").attr("stroke","rgba(76,175,80,0.6)").attr("stroke-width",2));
const lma=d3.line().x(d=>x(d[0])).y(d=>y(d[1])).curve(d3.curveMonotoneX);
m.append("g").attr("clip-path","url(#maDn)").append("path").attr("d",lma(maValues)).attr("fill","none").attr("stroke","rgba(242,60,60,0.78)").attr("stroke-width",4.5);
m.append("g").attr("clip-path","url(#maUp)").append("path").attr("d",lma(maValues)).attr("fill","none").attr("stroke","rgba(56,142,60,0.72)").attr("stroke-width",4.5);

// pivots
function pivots(labels,values,bars,color,lcolor){
  labels.forEach((l,i)=>{const yy=Math.round(y(values[i]))+0.5;
    m.append("line").attr("x1",x(bars[0])).attr("x2",x(bars[1])).attr("y1",yy).attr("y2",yy).attr("stroke",color).attr("stroke-width",1.2);
    m.append("text").attr("x",x(bars[0])-4).attr("y",yy).attr("dy","0.35em").attr("text-anchor","end").attr("font-size",12).attr("fill",lcolor).text(l);});
}
pivots(monthlyPivotLabels,monthlyPivotValues,monthlyPivotBars,"#000","#000");
pivots(weeklyPivotLabels,weeklyPivotValues,weeklyPivotBars,"#000","#000");
pivots(dailyPivotLabels,dailyPivotValues,dailyPivotBars,"#c9cbd1","#c2c4ca");

// fib retracement
fibValues.forEach((v,i)=>{const yy=Math.round(y(v))+0.5;
  m.append("line").attr("x1",x(fibBars[0])).attr("x2",x(fibBars[1])).attr("y1",yy).attr("y2",yy).attr("stroke",fibColors[i]).attr("stroke-width",1);
  m.append("text").attr("x",x(fibBars[1])+3).attr("y",yy).attr("dy","0.35em").attr("font-size",12).attr("fill",fibColors[i]).text(fibLabels[i]);});
const ll=d3.line().x(d=>x(d[0])).y(d=>y(d[1]));
m.append("path").attr("d",ll(fibTrend)).attr("fill","none").attr("stroke","#9598a1").attr("stroke-width",1.2).attr("stroke-dasharray","5,5");
// fib extension
extValues.forEach((v,i)=>{const yy=Math.round(y(v))+0.5;
  m.append("line").attr("x1",x(extStartBar)).attr("x2",AX).attr("y1",yy).attr("y2",yy).attr("stroke","#1848cc").attr("stroke-width",1);
  m.append("text").attr("x",x(extStartBar)-3).attr("y",yy).attr("dy","0.35em").attr("text-anchor","end").attr("font-size",12).attr("fill","#1848cc").text(extLabels[i]);});
m.append("path").attr("d",ll(abcLeg)).attr("fill","none").attr("stroke","#1848cc").attr("stroke-width",1);

// candles
const cg=m.append("g");
closes.forEach((c,i)=>{
  const o=opens[i],hi=highs[i],lo=lows[i],up=c>=o,xx=x(i);
  cg.append("line").attr("x1",Math.round(xx)+0.5).attr("x2",Math.round(xx)+0.5).attr("y1",y(hi)).attr("y2",y(lo)).attr("stroke","#000").attr("stroke-width",1);
  const t=y(Math.max(o,c)),b=y(Math.min(o,c));
  cg.append("rect").attr("x",Math.round(xx)-1.5).attr("y",t).attr("width",4).attr("height",Math.max(1,b-t)).attr("fill",up?"#388e3c":"#d32f2f");
});
m.append("path").attr("d",ll(projection)).attr("fill","none").attr("stroke","#1848cc").attr("stroke-width",2);
const ly=Math.round(y(lastPrice))+0.5;
m.append("line").attr("x1",0).attr("x2",AX).attr("y1",ly).attr("y2",ly).attr("stroke","#388e3c").attr("stroke-width",1).attr("stroke-dasharray","1,2");

// ---------- OSC PANE ----------
const o=svg.append("g").attr("clip-path","url(#co)");
[80,20].forEach(v=>{const yy=Math.round(yo(v))+0.5;o.append("line").attr("x1",0).attr("x2",AX).attr("y1",yy).attr("y2",yy).attr("stroke","#555").attr("stroke-width",1.2).attr("stroke-dasharray","6,5");});
o.append("line").attr("x1",0).attr("x2",AX).attr("y1",yo(50)).attr("y2",yo(50)).attr("stroke","rgba(120,123,134,0.55)").attr("stroke-width",3);
const lo2=d3.line().x(d=>x(d[0])).y(d=>yo(d[1]));
o.append("g").attr("clip-path","url(#stDn)").append("path").attr("d",lo2(stochSlow)).attr("fill","none").attr("stroke","rgba(255,82,82,0.6)").attr("stroke-width",4.5).attr("stroke-linejoin","round");
o.append("g").attr("clip-path","url(#stUp)").append("path").attr("d",lo2(stochSlow)).attr("fill","none").attr("stroke","rgba(76,175,80,0.6)").attr("stroke-width",4.5).attr("stroke-linejoin","round");
o.append("path").attr("d",lo2(stochK)).attr("fill","none").attr("stroke","#43a047").attr("stroke-width",1);
o.append("path").attr("d",lo2(stochD)).attr("fill","none").attr("stroke","#f44336").attr("stroke-width",1);

// ---------- AXES / FRAME ----------
const fr=svg.append("g").attr("stroke","#50535e").attr("stroke-width",1);
fr.append("line").attr("x1",AX+0.5).attr("x2",AX+0.5).attr("y1",0).attr("y2",H);
fr.append("line").attr("x1",0).attr("x2",W).attr("y1",P1B+0.5).attr("y2",P1B+0.5);
fr.append("line").attr("x1",0).attr("x2",W).attr("y1",P2B+0.5).attr("y2",P2B+0.5);
const ax=svg.append("g");
priceTicks.forEach(p=>{const yy=Math.round(y(p))+0.5;
  ax.append("line").attr("x1",AX).attr("x2",AX+5).attr("y1",yy).attr("y2",yy).attr("stroke","#50535e");
  if(Math.abs(yy-ly)<12) return; // hidden behind the last-price tag
  ax.append("text").attr("x",AX+10).attr("y",yy).attr("dy","0.35em").attr("font-size",12).attr("fill","#131722").text(p.toFixed(4));});
oscTicks.forEach(v=>{const yy=Math.round(yo(v))+0.5;
  ax.append("line").attr("x1",AX).attr("x2",AX+5).attr("y1",yy).attr("y2",yy).attr("stroke","#50535e");
  ax.append("text").attr("x",AX+10).attr("y",yy).attr("dy","0.35em").attr("font-size",12).attr("fill","#131722").text(v.toFixed(2));});
timeTickBars.forEach((b,i)=>{const xx=Math.round(x(b))+0.5;
  ax.append("line").attr("x1",xx).attr("x2",xx).attr("y1",P2B).attr("y2",P2B+5).attr("stroke","#50535e");
  ax.append("text").attr("x",xx).attr("y",1157).attr("dy","0.35em").attr("text-anchor","middle").attr("font-size",12).attr("fill","#131722").text(timeTickLabels[i]);});
// USD tag
ax.append("rect").attr("x",2004).attr("y",4).attr("width",36).attr("height",18).attr("rx",3).attr("fill","#eef1f8");
ax.append("text").attr("x",2022).attr("y",13).attr("dy","0.35em").attr("text-anchor","middle").attr("font-size",11).attr("fill","#131722").text("USD");
// last price tags
ax.append("rect").attr("x",AX+1).attr("y",ly-9).attr("width",53).attr("height",17).attr("fill","#388e3c");
ax.append("text").attr("x",AX+10).attr("y",ly).attr("dy","0.35em").attr("font-size",12).attr("fill","#fff").text(lastPrice.toFixed(4));
ax.append("rect").attr("x",AX+1).attr("y",ly+9).attr("width",57).attr("height",17).attr("fill","#388e3c");
ax.append("text").attr("x",AX+5).attr("y",ly+17.5).attr("dy","0.35em").attr("font-size",12).attr("fill","#fff").text(countdown);
// A button
ax.append("circle").attr("cx",2022).attr("cy",1155).attr("r",9).attr("fill","#eef1f8");
ax.append("text").attr("x",2022).attr("y",1155).attr("dy","0.35em").attr("text-anchor","middle").attr("font-size",9).attr("fill","#50535e").text("A");

// header
const hd=svg.append("g").attr("font-size",12.5);
const hx=[10,65,119,172];
header.forEach((h,i)=>{const t=hd.append("text").attr("x",hx[i]).attr("y",16).attr("dy","0.35em");
  t.append("tspan").attr("fill","#50535e").text(h[0]);t.append("tspan").attr("fill","#26a69a").text(h[1]);});
hd.append("text").attr("x",225).attr("y",16).attr("dy","0.35em").attr("fill","#26a69a").text(headerChange);
function btn(yy,label){svg.append("rect").attr("x",9.5).attr("y",yy+0.5).attr("width",32).attr("height",19).attr("rx",3).attr("fill","#fff").attr("stroke","#d1d4dc");
  svg.append("text").attr("x",25.5).attr("y",yy+10).attr("dy","0.35em").attr("text-anchor","middle").attr("font-size",14).attr("fill","#131722").text(label);}
btn(29,"› 7");btn(942,"› 2");
</script></body></html>
